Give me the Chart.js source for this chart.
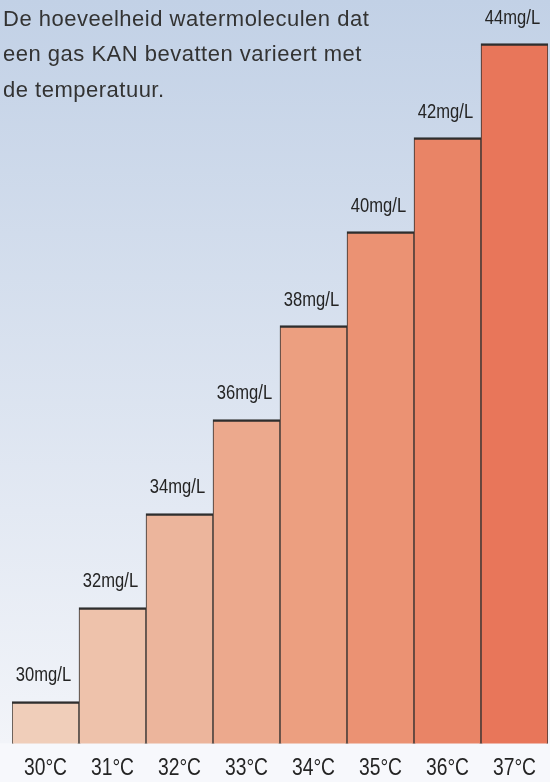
<!DOCTYPE html>
<html>
<head>
<meta charset="utf-8">
<script src="https://cdn.jsdelivr.net/npm/chart.js@4/dist/chart.umd.min.js"></script>
<style>
  html, body { margin: 0; padding: 0; background: #f7f8fc; }
  #wrap { position: relative; width: 550px; height: 782px; }
  #title {
    position: absolute; left: 3px; top: 0.6px; margin: 0;
    font-family: "Liberation Sans", Arial, sans-serif; font-size: 22px; line-height: 35.5px;
    letter-spacing: 0.5px;
    color: #333; font-weight: normal; pointer-events: none;
  }
</style>
</head>
<body>
<div id="wrap">
  <canvas id="c" width="550" height="782"></canvas>
  <p id="title">De hoeveelheid watermoleculen dat<br>een gas KAN bevatten varieert met<br>de temperatuur.</p>
</div>
<script>
const categories = ['30°C', '31°C', '32°C', '33°C', '34°C', '35°C', '36°C', '37°C'];
const values = [30, 32, 34, 36, 38, 40, 42, 44];
const valueLabels = ['30mg/L', '32mg/L', '34mg/L', '36mg/L', '38mg/L', '40mg/L', '42mg/L', '44mg/L'];
const barColors = ['#f0ceba', '#eec2ab', '#ecb59c', '#eca98d', '#ec9f80', '#eb9273', '#e98466', '#e8765a'];

const FONT = '"Liberation Sans", Arial, sans-serif';

// draws text horizontally condensed (like Helvetica Condensed)
function narrowText(ctx, text, x, y, size, squeeze) {
  ctx.save();
  ctx.translate(x, y);
  ctx.scale(squeeze, 1);
  ctx.font = size + 'px ' + FONT;
  ctx.fillText(text, 0, 0);
  ctx.restore();
}

const bgPlugin = {
  id: 'bg',
  beforeDraw(chart) {
    const ctx = chart.ctx;
    const b = chart.chartArea.bottom;
    ctx.save();
    const g = ctx.createLinearGradient(0, 0, 0, b);
    g.addColorStop(0, '#c2d1e6');
    g.addColorStop(1, '#f2f4f9');
    ctx.fillStyle = g;
    ctx.fillRect(0, 0, chart.width, b);
    ctx.fillStyle = '#f7f8fc';
    ctx.fillRect(0, b, chart.width, chart.height - b);
    ctx.restore();
  }
};

const labelPlugin = {
  id: 'labels',
  afterDatasetsDraw(chart) {
    const ctx = chart.ctx;
    const meta = chart.getDatasetMeta(0);
    const xs = chart.scales.x;
    ctx.save();
    ctx.fillStyle = '#242424';
    ctx.textAlign = 'center';
    ctx.textBaseline = 'alphabetic';
    meta.data.forEach((bar, i) => {
      narrowText(ctx, valueLabels[i], bar.x - 2, bar.y - 20, 19.5, 0.85);
    });
    categories.forEach((c, i) => {
      narrowText(ctx, c, xs.getPixelForValue(i), chart.chartArea.bottom + 31.5, 23.5, 0.82);
    });
    ctx.restore();
  }
};

new Chart(document.getElementById('c'), {
  type: 'bar',
  data: {
    labels: categories,
    datasets: [{
      data: values,
      backgroundColor: barColors,
      borderColor: '#2e2e2e',
      borderWidth: { top: 2.5, left: 1, right: 1, bottom: 2 },
      borderSkipped: false,
      categoryPercentage: 1,
      barPercentage: 1
    }]
  },
  options: {
    responsive: false,
    animation: false,
    devicePixelRatio: 1,
    layout: { padding: { left: 12, right: 2, top: 0, bottom: 38.5 } },
    plugins: { legend: { display: false }, tooltip: { enabled: false }, title: { display: false } },
    scales: {
      x: { display: false },
      y: { display: false, min: 29.106, max: 44.926 }
    }
  },
  plugins: [bgPlugin, labelPlugin]
});
</script>
</body>
</html>
